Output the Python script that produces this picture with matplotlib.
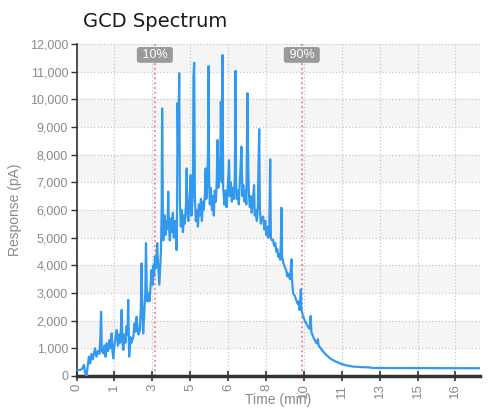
import numpy as np
import matplotlib
matplotlib.use('Agg')
import matplotlib.pyplot as plt

# signal trace (time in min, response in pA)
time_min = [
    0.00, 0.15, 0.23, 0.32, 0.36, 0.43, 0.47, 0.53, 0.58, 0.64, 0.70, 0.79, 0.85, 0.92, 0.98,
    1.02, 1.05, 1.08, 1.14, 1.20, 1.24, 1.29, 1.35, 1.41, 1.45, 1.50, 1.54, 1.57, 1.62, 1.67,
    1.72, 1.77, 1.81, 1.86, 1.90, 1.93, 1.96, 2.00, 2.05, 2.09, 2.14, 2.18, 2.21, 2.23, 2.25,
    2.31, 2.35, 2.43, 2.48, 2.52, 2.57, 2.60, 2.65, 2.71, 2.75, 2.78, 2.81, 2.85, 2.90, 2.94,
    2.97, 3.00, 3.03, 3.07, 3.12, 3.16, 3.21, 3.25, 3.29, 3.32, 3.35, 3.39, 3.45, 3.48, 3.54,
    3.61, 3.64, 3.66, 3.69, 3.71, 3.76, 3.80, 3.84, 3.89, 3.92, 3.95, 3.99, 4.04, 4.08, 4.12,
    4.16, 4.21, 4.25, 4.28, 4.30, 4.32, 4.35, 4.39, 4.42, 4.46, 4.50, 4.55, 4.59, 4.63, 4.68,
    4.71, 4.74, 4.78, 4.83, 4.88, 4.91, 4.95, 4.98, 5.00, 5.03, 5.06, 5.10, 5.15, 5.19, 5.23,
    5.27, 5.32, 5.36, 5.40, 5.44, 5.49, 5.52, 5.55, 5.59, 5.62, 5.64, 5.67, 5.70, 5.74, 5.79,
    5.83, 5.87, 5.91, 5.96, 6.00, 6.03, 6.06, 6.11, 6.15, 6.17, 6.21, 6.24, 6.27, 6.32, 6.36,
    6.41, 6.45, 6.49, 6.52, 6.55, 6.60, 6.64, 6.68, 6.73, 6.77, 6.80, 6.82, 6.85, 6.90, 6.94,
    6.98, 7.02, 7.05, 7.09, 7.13, 7.17, 7.22, 7.26, 7.29, 7.31, 7.34, 7.37, 7.41, 7.45, 7.49,
    7.54, 7.59, 7.62, 7.66, 7.71, 7.75, 7.81, 7.84, 7.88, 7.92, 7.98, 8.03, 8.07, 8.11, 8.16,
    8.20, 8.24, 8.28, 8.31, 8.35, 8.40, 8.45, 8.50, 8.54, 8.58, 8.63, 8.67, 8.71, 8.74, 8.76,
    8.79, 8.84, 8.90, 8.97, 9.01, 9.05, 9.12, 9.16, 9.19, 9.21, 9.26, 9.33, 9.39, 9.46, 9.50,
    9.54, 9.59, 9.62, 9.67, 9.76, 9.82, 9.90, 9.97, 10.01, 10.04, 10.10, 10.18, 10.26, 10.32, 10.35,
    10.44, 10.53, 10.61, 10.68, 10.78, 10.91, 11.04, 11.17, 11.25, 11.38, 11.51, 11.68, 11.82, 11.98, 12.19,
    12.36, 12.53, 12.66, 17.23,
]
response_pa = [
    200, 220, 250, 400, 150, 0, 300, 700, 450, 800, 600, 1000, 700, 900, 800,
    1400, 2320, 900, 820, 1100, 700, 1180, 900, 1300, 1000, 1540, 900, 640, 1100, 1400,
    1660, 1100, 1500, 1200, 1700, 2390, 1300, 940, 1500, 1200, 1800, 1500, 2750, 1600, 700,
    1400, 1200, 1420, 1900, 1600, 2140, 1800, 1500, 1660, 2500, 4070, 2600, 1540, 2300, 3000,
    4800, 3200, 2700, 2990, 2700, 3200, 3830, 3300, 4000, 3600, 4310, 3900, 4800, 4100, 3300,
    4500, 6000, 9670, 6200, 4900, 5800, 5100, 5600, 5300, 6660, 5500, 4900, 5700, 5200, 5900,
    5000, 5600, 5300, 4550, 6200, 9860, 8000, 10940, 6300, 5400, 6000, 5200, 5800, 5500, 6200,
    7500, 6000, 5600, 6300, 7260, 5800, 6200, 6800, 10820, 11320, 6500, 5600, 6000, 5400, 6200,
    5800, 6400, 5600, 6300, 6000, 6600, 7500, 6400, 7000, 8000, 11200, 7000, 6200, 6800, 6000,
    6500, 5800, 6700, 6300, 7200, 8530, 6800, 7200, 8000, 9910, 7000, 11600, 6800, 6200, 6700,
    6100, 6600, 7200, 7800, 6500, 7000, 6300, 6800, 6400, 7200, 11030, 7000, 6400, 6700, 6200,
    7000, 7600, 8290, 6500, 6900, 6300, 6700, 6200, 8800, 10220, 7600, 6600, 6100, 6500, 5900,
    6300, 6900, 5800, 6000, 5600, 6100, 8920, 6000, 5500, 5700, 5760, 5300, 5600, 5100, 5400,
    5000, 5200, 7830, 5000, 4900, 4920, 4700, 4800, 4500, 4600, 4300, 4400, 4200, 5000, 6080,
    4300, 4100, 3950, 3800, 3600, 3700, 3500, 3800, 4220, 3500, 2990, 2900, 2750, 2600, 2700,
    2385, 3130, 2400, 2200, 2000, 1900, 1780, 1700, 2170, 1600, 1450, 1300, 1180, 1330, 1100,
    1000, 900, 820, 760, 680, 600, 540, 490, 460, 420, 390, 360, 340, 330, 320,
    315, 310, 290, 280,
]

tick_labels = ['0', '1', '3', '5', '6', '8', '10', '11', '13', '15', '16']
tick_step = 1.62
y_ticks = list(range(0, 12001, 1000))
marker_times = [3.35, 9.63]
marker_labels = ['10%', '90%']

narrow = ['Liberation Sans', 'DejaVu Sans']
grey = '#8a8a8a'

fig = plt.figure(figsize=(4.88, 4.11), dpi=100)
ax = fig.add_axes([0.1568, 0.0852, 0.8268, 0.8078])

ax.set_xlim(0, 17.25)
ax.set_ylim(0, 12000)

# alternating light bands
for lo in range(1000, 12000, 2000):
    ax.axhspan(lo, lo + 1000, color='#f5f5f5', zorder=0, lw=0)

x_ticks = np.arange(len(tick_labels)) * tick_step
ax.set_xticks(x_ticks)
ax.set_xticklabels(tick_labels, rotation=90, family=narrow, fontsize=9.5, color=grey)
ax.set_yticks(y_ticks)
ax.set_yticklabels([f'{v:,}' for v in y_ticks], family=narrow, fontsize=9, color=grey)

ax.grid(True, linestyle=':', color='#c8c8c8', linewidth=0.9, zorder=1)
ax.set_axisbelow(True)

for t, lab in zip(marker_times, marker_labels):
    ax.axvline(t, color='#f08080', linestyle=':', linewidth=1.3, zorder=2)
    ax.text(t, 0.967, ' ' + lab + ' ', transform=ax.get_xaxis_transform(), ha='center', va='center',
            family=narrow, fontsize=9, color='white', zorder=3,
            bbox=dict(boxstyle='round,pad=0.15,rounding_size=0.2', fc='#9a9a9a', ec='none'))

ax.plot(time_min, response_pa, color='#3399ee', linewidth=1.6, zorder=4)

for side in ['top', 'right']:
    ax.spines[side].set_visible(False)
ax.spines['left'].set_color('#333333')
ax.spines['left'].set_linewidth(1.2)
ax.spines['bottom'].set_color('#333333')
ax.spines['bottom'].set_linewidth(2.5)
ax.tick_params(axis='y', direction='out', length=4, width=1, color='#333333', pad=2)
ax.tick_params(axis='x', direction='inout', length=7, width=1.2, color='#333333', pad=2)

ax.set_xlabel('Time (min)', family=narrow, fontsize=10, color=grey)
ax.set_ylabel('Response (pA)', family=narrow, fontsize=10, color=grey)
ax.xaxis.set_label_coords(0.5, -0.052)
ax.yaxis.set_label_coords(-0.135, 0.5)

fig.text(83 / 488, 1 - 27 / 411, 'GCD Spectrum', fontsize=14, color='#1a1a1a',
         family='DejaVu Sans', va='baseline', ha='left')

fig.savefig('out.png', dpi=100)
